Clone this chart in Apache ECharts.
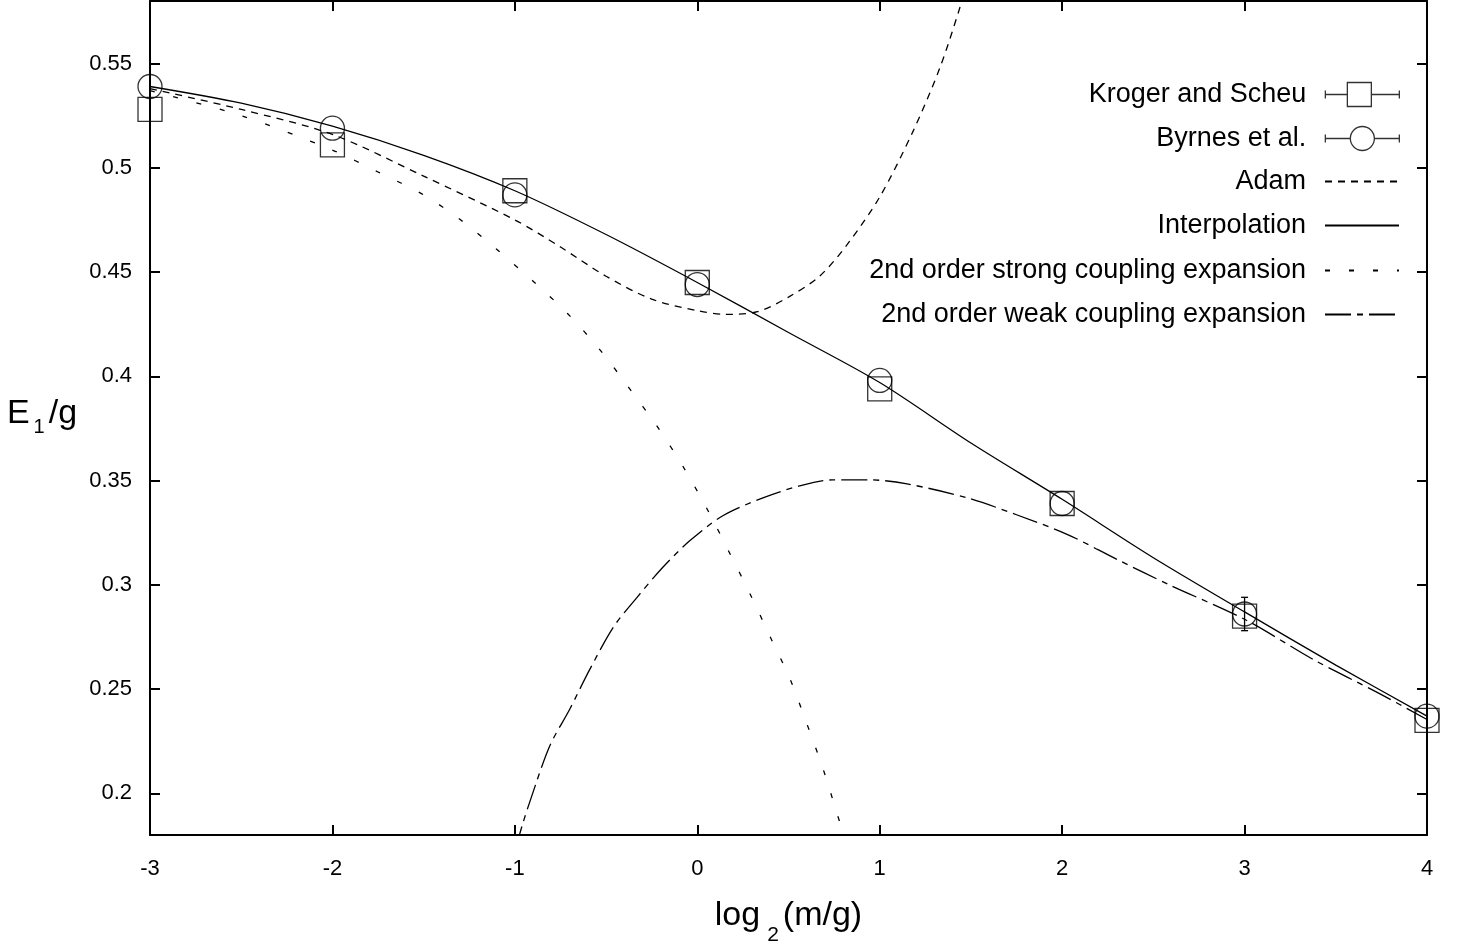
<!DOCTYPE html>
<html>
<head>
<meta charset="utf-8">
<script src="https://cdn.jsdelivr.net/npm/echarts@6/dist/echarts.min.js"></script>
<style>
html,body{margin:0;padding:0;background:#fff;}
#chart{width:1462px;height:951px;}
</style>
</head>
<body>
<div id="chart"></div>
<script>
// ---- data ----
var pointX = [-3, -2, -1, 0, 1, 2, 3, 4];
var krogerY = [0.528, 0.511, 0.489, 0.445, 0.394, 0.339, 0.285, 0.235];
var byrnesY = [0.539, 0.519, 0.487, 0.444, 0.398, 0.339, 0.286, 0.237];
var byrnesErr = [0, 0, 0, 0, 0, 0, 0.008, 0];

var adamX = [-3, -2.5, -2, -1.5, -1, -0.75, -0.5, -0.25, 0, 0.15, 0.33, 0.5, 0.67, 0.82, 1.0, 1.18, 1.33, 1.44, 1.5];
var adamY = [0.538, 0.528, 0.516, 0.496, 0.475, 0.462, 0.448, 0.437, 0.4315, 0.4297, 0.431, 0.438, 0.448, 0.463, 0.486, 0.517, 0.548, 0.577, 0.595];

var interpX = [-3, -2.5, -2, -1.5, -1, -0.5, 0, 0.5, 1, 1.5, 2, 2.5, 3, 3.5, 4];
var interpY = [0.539, 0.531, 0.520, 0.506, 0.489, 0.468, 0.445, 0.421, 0.397, 0.368, 0.341, 0.313, 0.287, 0.2615, 0.237];

var strongX = [-3, -2.5, -2, -1.75, -1.5, -1.3, -1.1, -0.9, -0.71, -0.53, -0.38, -0.22, -0.08, 0.05, 0.17, 0.29, 0.40, 0.51, 0.60, 0.69, 0.77, 0.84];
var strongY = [0.537, 0.525, 0.5085, 0.498, 0.487, 0.4752, 0.4609, 0.4456, 0.430, 0.4123, 0.3951, 0.376, 0.357, 0.337, 0.3165, 0.2955, 0.275, 0.2545, 0.2335, 0.2116, 0.1892, 0.170];

var weakX = [-1.0, -0.96, -0.92, -0.81, -0.70, -0.59, -0.46, -0.33, -0.19, -0.04, 0.14, 0.36, 0.56, 0.74, 0.95, 1.15, 1.48, 1.75, 2.03, 2.30, 2.58, 3.01, 3.38, 3.74, 4.0];
var weakY = [0.172, 0.1845, 0.1954, 0.2225, 0.2402, 0.2593, 0.2797, 0.294, 0.3083, 0.3212, 0.3331, 0.3417, 0.3474, 0.3503, 0.3503, 0.3484, 0.3417, 0.3336, 0.3241, 0.3122, 0.3003, 0.283, 0.264, 0.2478, 0.2354];

var yTicks = [0.2, 0.25, 0.3, 0.35, 0.4, 0.45, 0.5, 0.55];
var legendNames = ['Kroger and Scheu', 'Byrnes et al.', 'Adam', 'Interpolation',
  '2nd order strong coupling expansion', '2nd order weak coupling expansion'];

// ---- build ----
function pairs(xs, ys) { return xs.map(function (x, i) { return [x, ys[i]]; }); }
var errData = [];
pointX.forEach(function (x, i) {
  if (byrnesErr[i] > 0) errData.push([x, byrnesY[i] - byrnesErr[i], byrnesY[i] + byrnesErr[i]]);
});

var FONT = "'Liberation Sans', Arial, Helvetica, sans-serif";
var BLACK = '#000';

function lineSeries(name, xs, ys, dash) {
  return {
    name: name, type: 'line', data: pairs(xs, ys),
    showSymbol: false, symbol: 'none', smooth: 0.3,
    lineStyle: { color: BLACK, width: 1.3, type: dash },
    itemStyle: { color: BLACK },
    z: 3, silent: true
  };
}

var krogerIcon = 'path://M0,8 L0,16 M0,12 L22,12 M22,0 L46,0 L46,24 L22,24 Z M46,12 L74,12 M74,8 L74,16';
var byrnesIcon = 'path://M0,8 L0,16 M0,12 L25,12 M25,12 A12,12 0 1 1 49,12 A12,12 0 1 1 25,12 Z M49,12 L74,12 M74,8 L74,16';

var rowCenters = [93, 137, 180, 224, 269, 313];
var legends = legendNames.map(function (n, i) {
  var item = { name: n };
  if (i === 0) { item.icon = krogerIcon; item.itemStyle = { color: '#fff', borderColor: BLACK, borderWidth: 1.3 }; }
  else if (i === 1) { item.icon = byrnesIcon; item.itemStyle = { color: '#fff', borderColor: BLACK, borderWidth: 1.3 }; }
  else { item.itemStyle = { opacity: 0 }; }
  return {
    show: true, orient: 'vertical', right: 62, top: rowCenters[i] - 12, padding: 0,
    itemWidth: 74, itemHeight: 24, align: 'right', selectedMode: false,
    symbolKeepAspect: false,
    textStyle: { fontSize: 27, color: BLACK, fontFamily: FONT, padding: [0, 14, 0, 0] },
    data: [item]
  };
});

var axisCommon = {
  axisLine: { show: true, onZero: false, lineStyle: { color: BLACK, width: 2 } },
  axisTick: { show: true, inside: true, length: 10, lineStyle: { color: BLACK, width: 2 } },
  splitLine: { show: false }
};

var option = {
  animation: false,
  backgroundColor: '#fff',
  textStyle: { fontFamily: FONT },
  grid: { left: 150, right: 35, top: 1, bottom: 112, containLabel: false },
  legend: legends,
  xAxis: [
    Object.assign({}, axisCommon, {
      type: 'value', min: -3, max: 4, interval: 1, position: 'bottom',
      axisLabel: { show: true, fontSize: 22, color: BLACK, fontFamily: FONT, margin: 23 },
      name: '{a|log}{s|2}{a|(m/g)}', nameLocation: 'middle', nameGap: 64,
      nameTextStyle: {
        verticalAlign: 'top', align: 'center', fontFamily: FONT, color: BLACK,
        rich: {
          a: { fontSize: 34, lineHeight: 34, verticalAlign: 'top', fontFamily: FONT, color: BLACK },
          s: { fontSize: 21, lineHeight: 21, verticalAlign: 'top', padding: [26, 4, 0, 7], fontFamily: FONT, color: BLACK }
        }
      }
    }),
    Object.assign({}, axisCommon, {
      type: 'value', min: -3, max: 4, interval: 1, position: 'top',
      axisLabel: { show: false }
    })
  ],
  yAxis: [
    Object.assign({}, axisCommon, {
      type: 'value', min: 0.18, max: 0.58, position: 'left',
      axisTick: { show: true, inside: true, length: 10, lineStyle: { color: BLACK, width: 2 }, customValues: yTicks },
      axisLabel: { show: true, fontSize: 22, color: BLACK, fontFamily: FONT, margin: 18, customValues: yTicks },
      name: '{a|E}{s|1}{a|/g}', nameLocation: 'middle', nameGap: 108, nameRotate: 0,
      nameTextStyle: {
        verticalAlign: 'middle', align: 'center', fontFamily: FONT, color: BLACK, padding: [0, 0, 9, 0],
        rich: {
          a: { fontSize: 34, lineHeight: 34, verticalAlign: 'top', fontFamily: FONT, color: BLACK },
          s: { fontSize: 20, lineHeight: 20, verticalAlign: 'top', padding: [21, 4, 0, 4], fontFamily: FONT, color: BLACK }
        }
      }
    }),
    Object.assign({}, axisCommon, {
      type: 'value', min: 0.18, max: 0.58, position: 'right',
      axisTick: { show: true, inside: true, length: 10, lineStyle: { color: BLACK, width: 2 }, customValues: yTicks },
      axisLabel: { show: false }
    })
  ],
  series: [
    {
      name: 'Kroger and Scheu', type: 'scatter', data: pairs(pointX, krogerY),
      symbol: 'rect', symbolSize: 24,
      itemStyle: { color: 'rgba(0,0,0,0)', borderColor: BLACK, borderWidth: 1.3 },
      z: 4, silent: true
    },
    {
      name: 'Byrnes et al.', type: 'scatter', data: pairs(pointX, byrnesY),
      symbol: 'circle', symbolSize: 24,
      itemStyle: { color: 'rgba(0,0,0,0)', borderColor: BLACK, borderWidth: 1.3 },
      z: 4, silent: true
    },
    {
      name: 'Byrnes errors', type: 'custom', data: errData, z: 4, silent: true,
      encode: { x: 0, y: [1, 2] },
      renderItem: function (params, api) {
        var lo = api.coord([api.value(0), api.value(1)]);
        var hi = api.coord([api.value(0), api.value(2)]);
        var w = 3.5;
        var st = { stroke: BLACK, lineWidth: 1.3, fill: null };
        return {
          type: 'group', children: [
            { type: 'line', shape: { x1: lo[0], y1: lo[1], x2: hi[0], y2: hi[1] }, style: st },
            { type: 'line', shape: { x1: lo[0] - w, y1: lo[1], x2: lo[0] + w, y2: lo[1] }, style: st },
            { type: 'line', shape: { x1: hi[0] - w, y1: hi[1], x2: hi[0] + w, y2: hi[1] }, style: st }
          ]
        };
      }
    },
    lineSeries('Adam', adamX, adamY, [7, 6]),
    lineSeries('Interpolation', interpX, interpY, 'solid'),
    lineSeries('2nd order strong coupling expansion', strongX, strongY, [5, 19]),
    lineSeries('2nd order weak coupling expansion', weakX, weakY, [26, 6, 6, 6])
  ]
};

var chart = echarts.init(document.getElementById('chart'), null, { renderer: 'canvas' });
chart.setOption(option);
</script>
</body>
</html>
